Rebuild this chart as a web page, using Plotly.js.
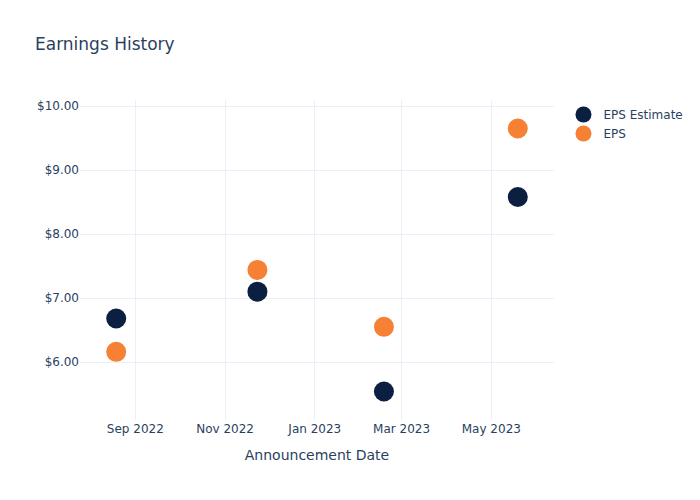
<!DOCTYPE html>
<html>
<head>
<meta charset="utf-8">
<script src="https://cdn.plot.ly/plotly-3.0.1.min.js"></script>
<style>html,body{margin:0;padding:0;}</style>
</head>
<body>
<div id="chart" style="width:700px;height:500px;"></div>
<script>
const dates = ["2022-08-19", "2022-11-23", "2023-02-17", "2023-05-19"];
const epsEstimate = [6.68, 7.10, 5.54, 8.58];
const eps = [6.16, 7.44, 6.55, 9.65];

const data = [
  {x: dates, y: epsEstimate, name: "EPS Estimate", mode: "markers", type: "scatter",
   marker: {color: "#0b1f41", size: 20}},
  {x: dates, y: eps, name: "EPS", mode: "markers", type: "scatter",
   marker: {color: "#f68135", size: 20}}
];
const layout = {
  width: 700, height: 500,
  paper_bgcolor: "white", plot_bgcolor: "white",
  font: {family: "DejaVu Sans, Verdana, sans-serif", size: 12, color: "#2a3f5f"},
  title: {text: "Earnings History", x: 0.05, xanchor: "left", font: {size: 17}},
  hovermode: "closest",
  xaxis: {title: {text: "Announcement Date", standoff: 15}, gridcolor: "#EBF0F8", zerolinecolor: "#EBF0F8",
          showline: false, ticks: "", automargin: true},
  yaxis: {tickprefix: "$", tickformat: ".2f", gridcolor: "#EBF0F8", zerolinecolor: "#EBF0F8",
          showline: false, ticks: "", automargin: true},
  legend: {font: {size: 12}}
};
Plotly.newPlot("chart", data, layout, {displayModeBar: false});
</script>
</body>
</html>
